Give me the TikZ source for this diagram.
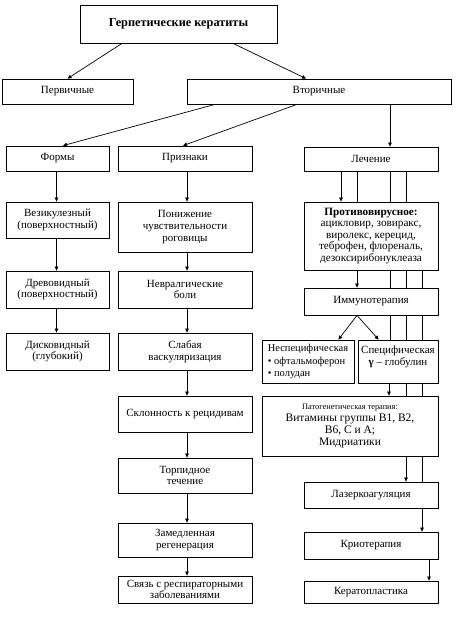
\documentclass[tikz,border=0pt]{standalone}
\usepackage{fontspec}
\setmainfont{Liberation Serif}
\usetikzlibrary{arrows.meta,calc}
\newcommand\bx[7][]{\node[box,#1,minimum width={#5-#3},minimum height={#6-#4}] (#2) at ({(#3+#5)/2},{(#4+#6)/2}) {#7};}
\begin{document}
\begin{tikzpicture}[x=1pt,y=-1pt,
 box/.style={draw, line width=0.8pt, inner sep=0pt, align=center, font=\fontsize{11}{11.6}\selectfont},
 arr/.style={-{Triangle[length=4pt,width=3.6pt]}, line width=0.7pt},
 ln/.style={line width=0.7pt}]
\useasboundingbox (0,0) rectangle (455,617);
\bx[font=\fontsize{12.3}{13}\selectfont\bfseries]{title}{80}{5}{277}{43}{Герпетические кератиты}
\bx{prim}{2}{79}{133}{104}{Первичные}
\bx{sec}{187}{79}{451}{104}{Вторичные}
\bx{formy}{6}{146}{109}{171}{Формы}
\bx{prizn}{118}{146}{252}{171}{Признаки}
\bx{lech}{304}{147}{438}{171}{Лечение}
\bx{vez}{6}{202}{109}{238}{Везикулезный\\(поверхностный)}
\bx{drev}{6}{271}{109}{308}{Древовидный\\(поверхностный)}
\bx{disk}{6}{333}{109}{370}{Дисковидный\\(глубокий)}
\bx{pon}{118}{202}{252}{252}{Понижение\\чувствительности\\роговицы}
\bx{nevr}{118}{271}{252}{308}{Невралгические\\боли}
\bx{slab}{118}{333}{252}{370}{Слабая\\васкуляризация}
\bx{skl}{118}{396}{252}{432}{Склонность к рецидивам}
\bx{torp}{118}{458}{252}{493}{Торпидное\\течение}
\bx{zam}{118}{523}{252}{557}{Замедленная\\регенерация}
\bx{svz}{118}{576}{252}{603}{Связь с респираторными\\заболеваниями}
\bx[font=\fontsize{11.2}{11.5}\selectfont]{anti}{304}{202}{438}{270}{\textbf{Противовирусное:}\\ацикловир, зовиракс,\\виролекс, керецид,\\теброфен, флореналь,\\дезоксирибонуклеаза}
\bx{immun}{304}{288}{438}{315}{Иммунотерапия}
\bx[font=\fontsize{10.5}{12}\selectfont]{nesp}{262}{340}{354}{383}{\begin{tabular}{@{}l@{}}\multicolumn{1}{@{}c@{}}{Неспецифическая}\\[1pt] • офтальмоферон\\ • полудан\end{tabular}}
\bx{spec}{358}{340}{438}{383}{Специфическая\\\textbf{γ} – глобулин\\\mbox{}}
\bx[font=\fontsize{11.5}{12}\selectfont]{pato}{262}{396}{438}{456}{{\fontsize{8.3}{11}\selectfont Патогенетическая терапия:}\\Витамины группы В1, В2,\\В6, С и А;\\Мидриатики}
\bx{laser}{304}{482}{438}{508}{Лазеркоагуляция}
\bx{krio}{304}{532}{438}{559}{Криотерапия}
\bx{kerat}{304}{581}{438}{603}{Кератопластика}
% top level
\draw[arr] ([xshift=-56.5pt]title.south) -- (prim.north);
\draw[arr] ([xshift=54.5pt]title.south) -- ([xshift=-13pt]sec.north);
\draw[arr] ([xshift=-104pt]sec.south) -- ([xshift=5.5pt]formy.north);
\draw[arr] ([xshift=-22pt]sec.south) -- ([xshift=-2pt]prizn.north);
\draw[arr] ([xshift=71pt]sec.south) -- ([xshift=19pt]lech.north);
% forms column
\foreach \a/\b in {formy/vez,vez/drev,drev/disk}
  \draw[arr] ([xshift=-1pt]\a.south) -- ([xshift=-1pt]\b.north);
% signs column
\foreach \a/\b in {prizn/pon,pon/nevr,nevr/slab,slab/skl,skl/torp,torp/zam,zam/svz}
  \draw[arr] ([xshift=2pt]\a.south) -- ([xshift=2pt]\b.north);
% treatment column
\draw[arr] ([xshift=-30pt]lech.south) -- ([xshift=-30pt]anti.north);
\foreach \s in {-14,19,35} \draw[ln] ([xshift=\s*1pt]lech.south) -- ([xshift=\s*1pt]anti.north);
\draw[arr] ([xshift=-14pt]anti.south) -- ([xshift=-14pt]immun.north);
\foreach \s in {19,35,51} \draw[ln] ([xshift=\s*1pt]anti.south) -- ([xshift=\s*1pt]immun.north);
\draw[arr] ([xshift=-14pt]immun.south) -- ([xshift=-16pt]nesp.north east);
\draw[arr] ([xshift=-14pt]immun.south) -- ([xshift=21pt]spec.north west);
\foreach \s in {19,35,51} \draw[ln] ([xshift=\s*1pt]immun.south) -- ([xshift={(\s-27)*1pt}]spec.north);
\draw[arr] ([xshift=-9pt]spec.south) -- ([xshift=39pt]pato.north);
\foreach \s in {8,24} \draw[ln] ([xshift=\s*1pt]spec.south) -- ([xshift={(\s+48)*1pt}]pato.north);
\draw[arr] ([xshift=56pt]pato.south) -- ([xshift=35pt]laser.north);
\draw[ln] ([xshift=72pt]pato.south) -- ([xshift=51pt]laser.north);
\draw[arr] ([xshift=51pt]laser.south) -- ([xshift=51pt]krio.north);
\draw[arr] ([xshift=58pt]krio.south) -- ([xshift=58pt]kerat.north);
\end{tikzpicture}
\end{document}
